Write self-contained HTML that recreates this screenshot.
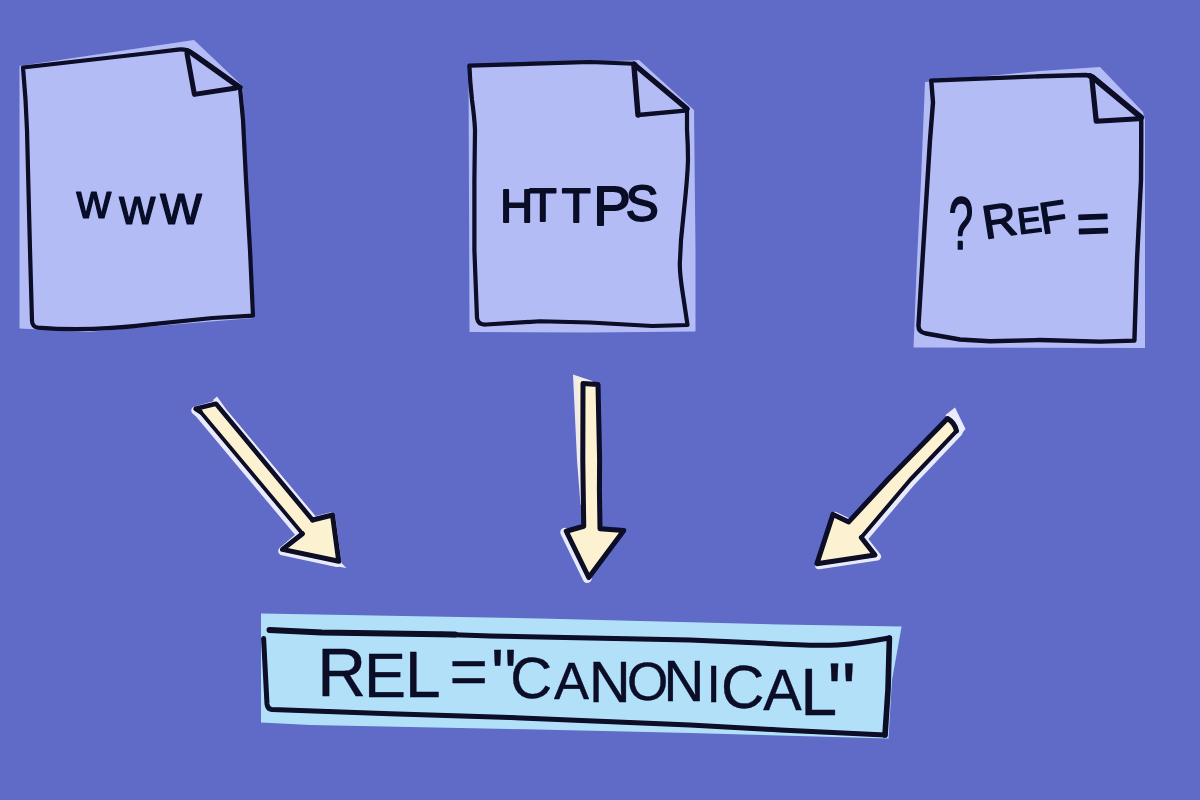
<!DOCTYPE html>
<html lang="en">
<head>
<meta charset="utf-8">
<title>rel=canonical</title>
<style>
html,body{margin:0;padding:0;background:#5f6bc7;}
body{width:1200px;height:800px;overflow:hidden;}
svg{display:block;}
text{font-family:"Liberation Sans",sans-serif;fill:#070a28;}
.ink{fill:none;stroke:#070a28;stroke-linecap:round;stroke-linejoin:round;}
</style>
</head>
<body>
<svg width="1200" height="800" viewBox="0 0 1200 800">
<defs><filter id="soft" x="0" y="0" width="1200" height="800" filterUnits="userSpaceOnUse"><feGaussianBlur stdDeviation="0.55"/></filter></defs>
<rect width="1200" height="800" fill="#5f6bc7"/>
<g filter="url(#soft)">

<!-- document 1 -->
<g id="doc1">
<path d="M19.5 66 L194 40 L242.5 86 L255 316 L254 318 L150 326.5 L88 332 L19.5 328.5 Z" fill="#b3bcf5"/>
<path class="ink" stroke-width="4.2" d="M23 67.5 L150 53 L178 49.6 Q186 48.6 190 52 M23 67.5 Q26 100 27 130 L30 250 L32 321 Q32.3 326.8 38 327.6 Q88 332 150 324.4 L212.5 318 L253 315.6 L250 250 L246 180 L243 120 L240 87.5"/>
<path class="ink" stroke-width="5.4" d="M188 51 Q190 51.5 193 54 L240 87.5"/>
<path class="ink" stroke-width="5" d="M187 53.5 L194.4 94.4 L236 88"/>
<text stroke="#070a28" stroke-width="1.2" stroke-linejoin="round"><tspan x="76.4" y="217.9" font-size="47.9">w</tspan><tspan x="119.2" y="223.8" font-size="49.8">w</tspan><tspan x="160.2" y="224.4" font-size="57.4">w</tspan></text>
</g>

<!-- document 2 -->
<g id="doc2">
<path d="M468.5 64 L633 60.5 L639 60 L694 110 L695.5 250 L695.5 331.5 L590 332.5 L469.5 332 Z" fill="#b3bcf5"/>
<path class="ink" stroke-width="4.2" d="M469.4 65.6 L590 62 L633.75 63.75 M469.4 65.6 Q470 82 472 100 Q474.5 118 475 130 L474.4 180 L474.4 250 L477 318 Q478 325 486 324.5 L540 321.25 L590 322.5 L652.5 326 L687.5 325 L683 295 Q679 270 680 260 L681 240 L684 210 Q687.5 178 688 160 Q688 145 687 130 L687 108.75"/>
<path class="ink" stroke-width="5.4" d="M634 64 L636 66 L687 108.75"/>
<path class="ink" stroke-width="5.4" d="M634 66 L638 115"/>
<path class="ink" stroke-width="4.4" d="M638 115 L685 110.6"/>
<text stroke="#070a28" stroke-width="1.8" stroke-linejoin="round"><tspan x="500.2" y="221.6" font-size="45.3">H</tspan><tspan x="529.0" y="220.8" font-size="45.3">T</tspan><tspan x="561.7" y="221.6" font-size="47.5">T</tspan><tspan x="593.3" y="224.6" font-size="56.3">P</tspan><tspan x="625.8" y="221.1" font-size="49.4">S</tspan></text>
</g>

<!-- document 3 -->
<g id="doc3">
<path d="M925 82 L1040 71 L1100 67 L1143 112 L1145 120 L1145 348 L913.5 347.5 L917 260 L921 180 Z" fill="#b3bcf5"/>
<path class="ink" stroke-width="4.4" d="M931.25 80.6 L1040 76.25 L1086 75 Q1090 75 1093.75 77.5 M931.25 80.6 L933 102.5 L930 140 L927.5 180 L922.5 260 L918.5 325 Q918 332 926 333.5 L960 339.5 L990 341.3 L1040 340 L1100 341.6 L1134.4 340.6 L1137 260 L1141 180 L1141.25 140 L1141.25 117.5"/>
<path class="ink" stroke-width="5.6" d="M1090 76 Q1093 77 1096 80 L1141.25 117.5"/>
<path class="ink" stroke-width="5.2" d="M1092 80 L1096.25 121.25 L1138.75 118.75"/>
<text stroke="#070a28" stroke-width="1.7" stroke-linejoin="round"><tspan x="948.7" y="249" font-size="75" textLength="24.4" lengthAdjust="spacingAndGlyphs">?</tspan><tspan x="985.3" y="239.1" font-size="46.8" rotate="-9">R</tspan><tspan x="1019.1" y="234.1" font-size="35.9" rotate="-7">E</tspan><tspan x="1042.2" y="234.1" font-size="43.9" rotate="-9">F</tspan><tspan x="1077.3" y="243.2" font-size="57" rotate="-2">=</tspan></text>
</g>

<!-- arrows -->
<g id="arrows" stroke-linejoin="round" stroke-linecap="round">
<!-- arrow 1 -->
<path d="M197 409 L216 403.75 L312.5 520 L332.5 515 L338.75 561.25 L284 549.6 L302.5 533.75 L200.6 412 Z" fill="#e9ebfc" stroke="#e9ebfc" stroke-width="8.5" stroke-linejoin="round" transform="translate(-1.5,1.5)"/>
<path d="M213 400 L217 396.5 L226 409 L318 519 L310 522 Z" fill="#e9ebfc"/>
<path d="M336 558 L346.5 568 L328 565 Z" fill="#e9ebfc"/>
<path d="M195.6 408.75 L216 403.75 L312.5 520 L332.5 515 L338.75 561.25 L282.5 549.4 L302.5 533.75 L200.6 412 Z" fill="#fcf1d0"/>
<path d="M200.6 412 L195.6 408.75 L216 403.75 L312.5 520" fill="none" stroke="#070a28" stroke-width="4.6"/>
<path d="M312.5 520 L332.5 515 L338.75 561.25 L282.5 549.4 L302.5 533.75" fill="none" stroke="#070a28" stroke-width="5"/>
<path d="M302.5 533.75 L200.6 412" fill="none" stroke="#070a28" stroke-width="3.7"/>
<!-- arrow 2 -->
<path d="M573 374.4 L592.5 381 L590 400 L584 505 L580.5 505 L577 460 Z" fill="#eeeaf0"/>
<path d="M577 379 L592.5 382 L590 400 L584 505 L582 505 L580 460 Z" fill="#fcf1d0"/>
<path d="M566.25 531.25 L588.75 577.5" fill="none" stroke="#e9ebfc" stroke-width="9" transform="translate(-1.5,1)"/>
<path d="M583 383.5 L598 384.5 L599.6 460 L599.4 490 L600 528.75 L623.75 530.6 L588.75 577.5 L566.25 531.25 L583.75 526.25 L583.2 490 L582.8 460 Z" fill="#fcf1d0" stroke="#070a28" stroke-width="5"/>
<!-- arrow 3 -->
<path d="M947.5 418.5 L956.5 431 L910 480 L861.25 537.5 L875 555 L816.9 563.75 L833 514.4 L848.75 521.9 L887.5 480 Z" fill="#e9ebfc" stroke="#e9ebfc" stroke-width="8" stroke-linejoin="round" transform="translate(2,1.5)"/>
<path d="M945.5 415 L955 407.5 L965.5 429 L958 438 Z" fill="#e9ebfc"/>
<path d="M947.5 418.5 L956.5 431 L910 480 L861.25 537.5 L875 555 L816.9 563.75 L833 514.4 L848.75 521.9 L887.5 480 Z" fill="#fcf1d0"/>
<path d="M956.5 431 L910 480 L861.25 537.5" fill="none" stroke="#070a28" stroke-width="4"/>
<path d="M861.25 537.5 L875 555 L816.9 563.75 L833 514.4 L848.75 521.9 L887.5 480 L947.5 418.5 Q955 423 956.5 431" fill="none" stroke="#070a28" stroke-width="5"/>
</g>

<!-- canonical box -->
<g id="box">
<path d="M261 613.5 L540 618.5 L780 624.5 L901.6 626.6 L892 680 L888.5 738.5 L780 735.5 L690 733 L510 729 L310 725 L261 722.5 Z" fill="#b2e0f8"/>
<path class="ink" stroke-width="6" d="M269.5 630 L322 632.5 L455 634.5"/>
<path class="ink" stroke-width="5" d="M440 634.3 L490 636 L690 640 L760 643 Q825 647 850 644 Q870 641.5 889.4 638"/>
<path class="ink" stroke-width="5.6" d="M889.4 638 L888 690 L885 735"/>
<path class="ink" stroke-width="5" d="M263.6 638.5 L267 704 Q267.5 709 272 709.5 L390 713.75 L510 717.5 L690 725 L780 729.9 L885 735"/>
<text stroke="#070a28" stroke-width="0.4" stroke-linejoin="round"><tspan x="317.2" y="695.8" font-size="67.7">R</tspan><tspan x="364.0" y="696.5" font-size="62.9">E</tspan><tspan x="405.1" y="697.3" font-size="64.1">L</tspan><tspan x="449.6" y="694.1" font-size="65.8">=</tspan><tspan x="491.2" y="699.8" font-size="72.1">&quot;</tspan><tspan x="510.2" y="698.2" font-size="58.1">C</tspan><tspan x="554.0" y="698.8" font-size="52.5">A</tspan><tspan x="589.0" y="701.5" font-size="57.6">N</tspan><tspan x="627.1" y="700.3" font-size="53.1">O</tspan><tspan x="663.6" y="700.8" font-size="56.5">N</tspan><tspan x="706.6" y="701.5" font-size="51.3">I</tspan><tspan x="720.9" y="708.2" font-size="60.2">C</tspan><tspan x="763.3" y="709.8" font-size="57.6">A</tspan><tspan x="800.2" y="714.8" font-size="66.3">L</tspan><tspan x="827.6" y="719.2" font-size="80.0">&quot;</tspan></text>
</g>
</g>
</svg>
</body>
</html>
